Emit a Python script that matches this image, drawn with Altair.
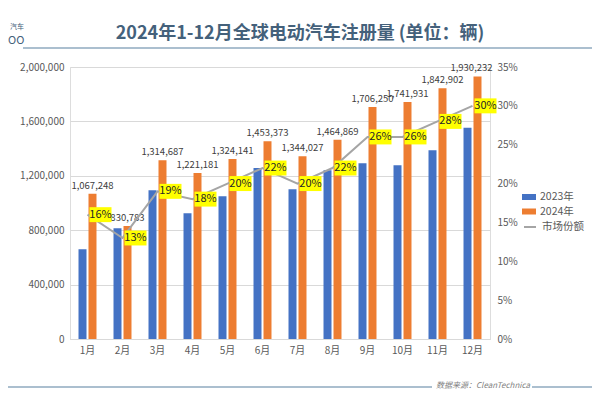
import altair as alt
import pandas as pd

months = ["1月", "2月", "3月", "4月", "5月", "6月", "7月", "8月", "9月", "10月", "11月", "12月"]
sales_2023 = [660000, 814000, 1094000, 924000, 1050000, 1258000, 1101000, 1241000, 1293000, 1278000, 1388000, 1553000]
sales_2024 = [1067248, 830783, 1314687, 1221181, 1324141, 1453373, 1344027, 1464869, 1706250, 1741931, 1842902, 1930232]
share = [0.16, 0.13, 0.19, 0.18, 0.20, 0.22, 0.20, 0.22, 0.26, 0.26, 0.28, 0.30]
series = ["2023年", "2024年"]
left_ticks = [0, 400000, 800000, 1200000, 1600000, 2000000]
right_ticks = [0, 0.05, 0.10, 0.15, 0.20, 0.25, 0.30, 0.35]

FONT = "Noto Sans CJK SC"
AXIS_GRAY = "#595959"

bars_df = pd.DataFrame(
    [{"month": m, "series": series[0], "value": v} for m, v in zip(months, sales_2023)]
    + [{"month": m, "series": series[1], "value": v} for m, v in zip(months, sales_2024)]
)
share_df = pd.DataFrame({"month": months, "share": share, "legend": ["市场份额"] * len(months)})

x_enc = alt.X(
    "month:N",
    sort=months,
    scale=alt.Scale(domain=months, paddingInner=0.486, paddingOuter=0.243),
    axis=alt.Axis(
        title=None, labelAngle=0, ticks=False, domainColor="#D9D9D9",
        labelColor=AXIS_GRAY, labelFontSize=10, labelFont=FONT, labelPadding=6,
    ),
)
xoff_enc = alt.XOffset("series:N", scale=alt.Scale(domain=series, paddingInner=0.2, paddingOuter=0))

y_left = alt.Y(
    "value:Q",
    scale=alt.Scale(domain=[0, 2000000], nice=False),
    axis=alt.Axis(
        title=None, values=left_ticks, format=",.0f", ticks=False, domain=False,
        gridColor="#D9D9D9", labelColor=AXIS_GRAY, labelFontSize=10, labelFont=FONT, labelPadding=6,
    ),
)

bars = alt.Chart(bars_df).mark_bar().encode(
    x=x_enc,
    xOffset=xoff_enc,
    y=y_left,
    color=alt.Color(
        "series:N",
        scale=alt.Scale(domain=series, range=["#4472C4", "#ED7D31"]),
        legend=alt.Legend(
            title=None, orient="none", legendX=453, legendY=124,
            symbolType="M-1.17,-0.5L1.17,-0.5L1.17,0.5L-1.17,0.5Z", symbolSize=144,
            symbolStrokeWidth=0, labelFontSize=10.5, labelColor=AXIS_GRAY, labelFont=FONT,
            labelOffset=5, rowPadding=2.5, padding=0,
        ),
    ),
)

label_style = dict(baseline="bottom", fontSize=9.5, font=FONT, color="#404040")

bar_labels = alt.Chart(bars_df).transform_filter(
    (alt.datum.series == "2024年") & (alt.datum.month != "12月")
).mark_text(dy=-3, **label_style).encode(
    x=x_enc,
    xOffset=xoff_enc,
    y=y_left,
    text=alt.Text("value:Q", format=","),
)

# last label nudged left so it stays inside the plot, as in the original
bar_label_last = alt.Chart(bars_df).transform_filter(
    (alt.datum.series == "2024年") & (alt.datum.month == "12月")
).mark_text(dy=-3, dx=-6, **label_style).encode(
    x=x_enc,
    xOffset=xoff_enc,
    y=y_left,
    text=alt.Text("value:Q", format=","),
)

left = alt.layer(bars, bar_labels, bar_label_last)

y_right = alt.Y(
    "share:Q",
    scale=alt.Scale(domain=[0, 0.35], nice=False),
    axis=alt.Axis(
        title=None, orient="right", values=right_ticks, format=".0%", ticks=False,
        domain=False, grid=False, labelColor=AXIS_GRAY, labelFontSize=10, labelFont=FONT,
        labelPadding=7,
    ),
)

line = alt.Chart(share_df).mark_line(strokeWidth=2).encode(
    x=x_enc,
    y=y_right,
    stroke=alt.Stroke(
        "legend:N",
        scale=alt.Scale(domain=["市场份额"], range=["#A5A5A5"]),
        legend=alt.Legend(
            title=None, orient="none", legendX=453, legendY=153,
            symbolType="stroke", symbolSize=144, symbolStrokeWidth=2,
            labelFontSize=10.5, labelColor=AXIS_GRAY, labelFont=FONT, labelOffset=5, padding=0,
        ),
    ),
)

boxes = alt.Chart(share_df).mark_point(
    shape="M-1,-0.68L1,-0.68L1,0.68L-1,0.68Z", size=484, filled=True,
    color="#FFFF00", opacity=1, xOffset=13,
).encode(
    x=x_enc,
    y=y_right,
)

share_labels = alt.Chart(share_df).mark_text(
    dx=13, fontSize=11, font=FONT, color="#262626", baseline="middle",
).encode(
    x=x_enc,
    y=y_right,
    text=alt.Text("share:Q", format=".0%"),
)

right = alt.layer(line, boxes, share_labels)

deco_df = pd.DataFrame({"k": [0]})
deco_base = alt.Chart(deco_df)
title_text = deco_base.mark_text(
    text="2024年1-12月全球电动汽车注册量 (单位：辆)", fontSize=18, fontWeight="bold",
    font=FONT, color="#44617B", align="center", baseline="middle",
).encode(x=alt.value(230), y=alt.value(-33))
title_rule = deco_base.mark_rule(color="#8FAABF", strokeWidth=1.5).encode(
    x=alt.value(-47), x2=alt.value(530), y=alt.value(-19)
)
bottom_rule1 = deco_base.mark_rule(color="#8FAABF", strokeWidth=1.5).encode(
    x=alt.value(-62), x2=alt.value(362), y=alt.value(320)
)
bottom_rule2 = deco_base.mark_rule(color="#8FAABF", strokeWidth=1.5).encode(
    x=alt.value(462), x2=alt.value(522), y=alt.value(320)
)
source_text = deco_base.mark_text(
    text="数据来源：CleanTechnica", fontSize=8, fontStyle="italic", font=FONT,
    color="#7F7F7F", align="left", baseline="middle",
).encode(x=alt.value(366), y=alt.value(319))
logo1 = deco_base.mark_text(
    text="汽车", fontSize=7, font=FONT, color="#44617B", align="left", baseline="middle",
).encode(x=alt.value(-60), y=alt.value(-40))
logo2 = deco_base.mark_text(
    text="OO", fontSize=11, font=FONT, color="#44617B", align="left", baseline="middle",
).encode(x=alt.value(-62), y=alt.value(-26))

deco = alt.layer(title_text, title_rule, bottom_rule1, bottom_rule2, source_text, logo1, logo2)

chart = alt.layer(left, right, deco).resolve_scale(
    y="independent"
).properties(
    width=420, height=272,
    autosize=alt.AutoSizeParams(type="none"),
    padding={"left": 62, "top": 59, "right": 102, "bottom": 53},
).configure_view(strokeWidth=0).configure(background="white")

chart.save("out.html", embed_options={"renderer": "svg", "actions": False})
